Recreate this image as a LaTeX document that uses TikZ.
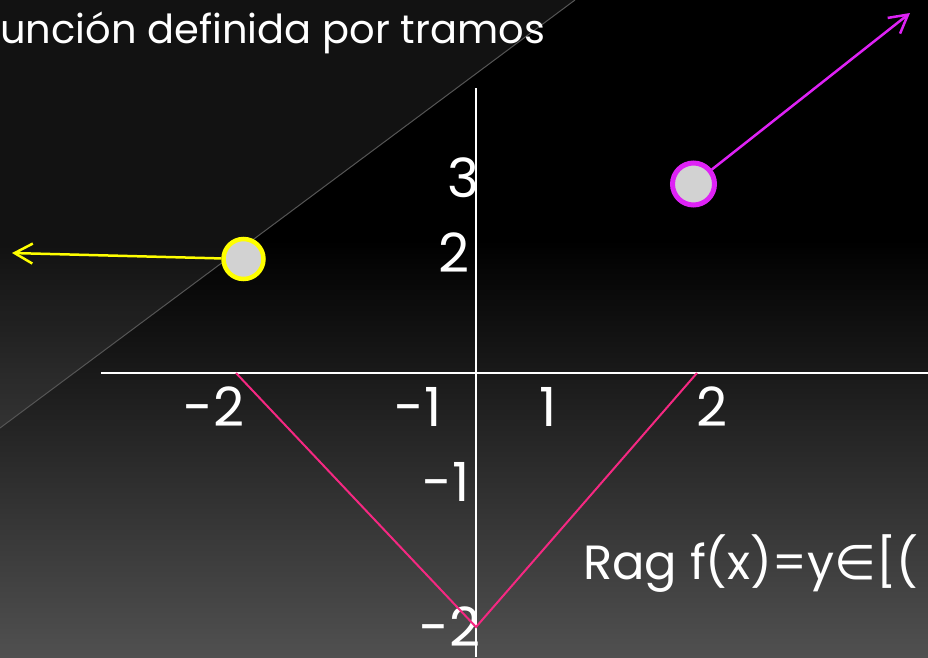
\documentclass[tikz,border=0pt]{standalone}
\usepackage{fontspec}
\setmainfont{Poppins}
\newfontfamily\symbfont{DejaVu Sans}
\usetikzlibrary{arrows.meta}
\definecolor{bggray}{RGB}{80,80,80}
\definecolor{dotgray}{RGB}{210,210,210}
\definecolor{ptyellow}{RGB}{255,255,0}
\definecolor{ptmagenta}{RGB}{222,34,245}
\definecolor{vpink}{RGB}{245,40,130}
\definecolor{diaggray}{RGB}{85,85,85}
\tikzstyle{axis} = [draw=white, line width=2pt]
\tikzstyle{tick} = [text=white, font=\fontsize{54}{54}\selectfont, inner sep=0pt]

\begin{document}
\begin{tikzpicture}[x=1pt, y=-1pt,
  dot/.style={circle, draw, fill=dotgray, line width=4.5pt, inner sep=0pt, minimum size=40pt},
  ray/.style={-{Straight Barb[length=18pt,width=20pt]}, line width=2.5pt},
  vline/.style={draw=vpink, line width=2pt}]

  % background
  \useasboundingbox (0,0) rectangle (928,657);
  \clip (0,0) rectangle (928,657);
  \fill[black] (0,0) rectangle (928,657);
  \shade[top color=black, bottom color=bggray] (0,240) rectangle (928,657);
  \fill[white, opacity=0.07] (0,0) -- (575,0) -- (0,428) -- cycle;
  \draw[diaggray, line width=1pt] (0,428) -- (575,0);

  \node[anchor=base west, inner sep=0pt, text=white, font=\fontsize{40}{48}\selectfont] (title) at (0,43) {unción definida por tramos};

  % axes
  \coordinate (xl) at (101,373);
  \coordinate (xr) at (928,373);
  \coordinate (yt) at (476,88);
  \coordinate (yb) at (476,657);
  \draw[axis] (xl) -- (xr);
  \draw[axis] (yt) -- (yb);

  \node[tick] (ly3) at (463,178) {3};
  \node[tick] (ly2) at (454,253) {2};
  \node[tick] (lym1) at (446,482) {-1};
  \node[tick] (lym2) at (450,627) {-2};
  \node[tick] (lxm2) at (214,407) {-2};
  \node[tick] (lxm1) at (418,407) {-1};
  \node[tick] (lx1) at (548,407) {1};
  \node[tick] (lx2) at (712,407) {2};

  % graph
  \coordinate (va) at (236,373);
  \coordinate (vb) at (476,627);
  \coordinate (vc) at (697,373);
  \draw[vline] (va) -- (vb) -- (vc);

  \node[dot, draw=ptyellow] (ydot) at (243.5,259) {};
  \coordinate (ytip) at (12,253);
  \draw[ray, ptyellow] (ydot) -- (ytip);
  \node[dot, draw=ptmagenta, minimum size=42pt, line width=5pt] (mdot) at (693.5,184) {};
  \coordinate (mtip) at (910,13);
  \draw[ray, ptmagenta] (mdot) -- (mtip);

  \node[anchor=base west, inner sep=0pt, text=white, font=\fontsize{48}{56}\selectfont] (rag) at (583,579) {Rag f(x)=y{\symbfont ∈}[(};
\end{tikzpicture}
\end{document}
